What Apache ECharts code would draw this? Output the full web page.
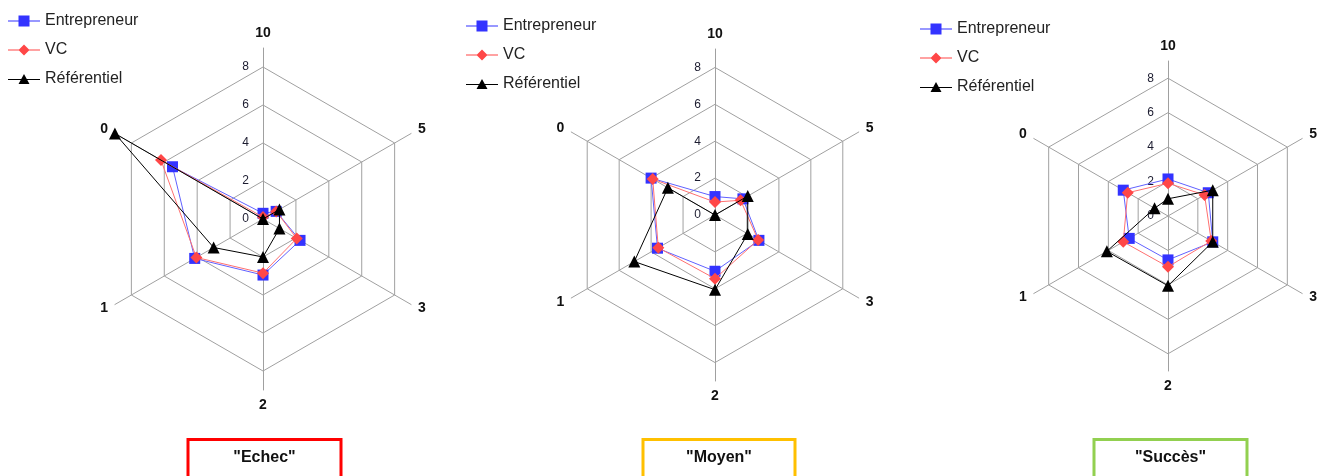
<!DOCTYPE html>
<html lang="fr">
<head>
    <meta charset="UTF-8">
    <title>Radar</title>
    <script src="https://cdn.jsdelivr.net/npm/echarts@6/dist/echarts.min.js"></script>
    <style>
        html, body { margin: 0; padding: 0; background: #fff; }
        #main { width: 1326px; height: 476px; }
    </style>
</head>
<body>
<div id="main"></div>
<script>
    // axes, dans l'ordre ECharts (sens anti-horaire depuis le haut)
    var axes = ['10', '0', '1', '2', '3', '5'];
    var seriesNames = ['Entrepreneur', 'VC', 'Référentiel'];
    var ringTicks = [0, 2, 4, 6, 8];
    var titles = ['"Echec"', '"Moyen"', '"Succès"'];

    // "Echec"
    var echecEntrepreneur = [0.3, 5.5, 4.15, 2.95, 2.25, 0.8];
    var echecVC = [0.1, 6.2, 4.05, 2.85, 2.05, 0.8];
    var echecRef = [0, 9, 3, 2, 1, 1];

    // "Moyen"
    var moyenEntrepreneur = [1.0, 4.0, 3.6, 3.05, 2.75, 1.75];
    var moyenVC = [0.7, 3.9, 3.55, 3.45, 2.7, 1.6];
    var moyenRef = [0, 2.95, 5.05, 4.05, 2.05, 2.05];

    // "Succès"
    var succesEntrepreneur = [2.15, 3.0, 2.6, 2.55, 3.0, 2.7];
    var succesVC = [1.9, 2.7, 3.0, 2.95, 2.9, 2.45];
    var succesRef = [1.0, 0.9, 4.1, 4.05, 3.0, 3.0];

    var groups = [
        [echecEntrepreneur, echecVC, echecRef],
        [moyenEntrepreneur, moyenVC, moyenRef],
        [succesEntrepreneur, succesVC, succesRef]
    ];

    var AXIS_MAX = 9;
    var centers = [[263, 219], [715, 215], [1168, 216]];
    var radii = [171, 166, 155];
    var legendPos = [[8, 13], [466, 18], [920, 21]];
    var boxes = [[188, 153, '#ff0000'], [643, 152, '#ffc000'], [1094, 153, '#92d050']];

    var styles = [
        {symbol: 'rect', size: 11, color: '#3333ff', line: '#6161ff',
         icon: 'path://M0,5.5H32V6.5H0Z M10.5,0.5H21.5V11.5H10.5Z'},
        {symbol: 'diamond', size: 12, color: '#ff4747', line: '#ff7070',
         icon: 'path://M0,5.5H32V6.5H0Z M16,0.5L21.5,6L16,11.5L10.5,6Z'},
        {symbol: 'triangle', size: 12, color: '#000000', line: '#000000',
         icon: 'path://M0,5.5H32V6.5H0Z M16,0.5L21.5,10.5H10.5Z'}
    ];

    // un anneau tous les 2, les autres transparents
    var ringColors = [];
    for (var k = 0; k <= AXIS_MAX; k++) {
        ringColors.push(ringTicks.indexOf(k) >= 0 ? '#a0a0a0' : 'rgba(0,0,0,0)');
    }

    var myChart = echarts.init(document.getElementById('main'));

    var radar = [], series = [], legend = [], graphic = [];

    for (var g = 0; g < 3; g++) {
        var indicator = axes.map(function (a, i) {
            var ind = {name: a, min: 0, max: AXIS_MAX};
            if (i === 0) {
                ind.axisLabel = {
                    show: true,
                    margin: 14,
                    fontSize: 12,
                    color: '#1c1c30',
                    fontFamily: 'Liberation Sans',
                    formatter: function (v) {
                        var n = Math.round(Number(v) * 100) / 100;
                        return ringTicks.indexOf(n) >= 0 ? String(n) : '';
                    }
                };
            }
            return ind;
        });
        radar.push({
            indicator: indicator,
            center: centers[g],
            radius: radii[g],
            startAngle: 90,
            splitNumber: AXIS_MAX,
            shape: 'polygon',
            nameGap: 8,
            axisName: {
                color: '#111',
                fontSize: 14,
                fontWeight: 'bold',
                fontFamily: 'Liberation Sans'
            },
            axisLine: {lineStyle: {color: '#a0a0a0', width: 1}},
            axisTick: {show: false},
            axisLabel: {show: false},
            splitLine: {lineStyle: {color: ringColors, width: 1}},
            splitArea: {show: false}
        });

        for (var s = 0; s < 3; s++) {
            var st = styles[s];
            series.push({
                type: 'radar',
                name: seriesNames[s],
                radarIndex: g,
                symbol: st.symbol,
                symbolSize: st.size,
                itemStyle: {color: st.color},
                lineStyle: {color: st.line, width: 1},
                silent: true,
                z: 2 + s,
                data: [{name: seriesNames[s], value: groups[g][s]}]
            });
        }

        legend.push({
            orient: 'vertical',
            left: legendPos[g][0],
            top: legendPos[g][1],
            padding: 0,
            itemWidth: 32,
            itemHeight: 12,
            itemGap: 13,
            selectedMode: false,
            textStyle: {fontSize: 16, color: '#222', fontFamily: 'Liberation Sans'},
            data: seriesNames.map(function (n, i) {
                return {name: n, icon: styles[i].icon};
            })
        });

        // cadres du bas
        graphic.push({
            type: 'rect',
            shape: {x: boxes[g][0], y: 439.5, width: boxes[g][1], height: 50},
            style: {fill: '#fff', stroke: boxes[g][2], lineWidth: 3}
        });
        graphic.push({
            type: 'text',
            x: boxes[g][0] + boxes[g][1] / 2,
            y: 458,
            style: {
                text: titles[g],
                fill: '#111',
                font: 'bold 16px "Liberation Sans"',
                textAlign: 'center',
                textVerticalAlign: 'middle'
            }
        });
    }

    myChart.setOption({
        animation: false,
        radar: radar,
        legend: legend,
        series: series,
        graphic: graphic
    });
</script>
</body>
</html>
